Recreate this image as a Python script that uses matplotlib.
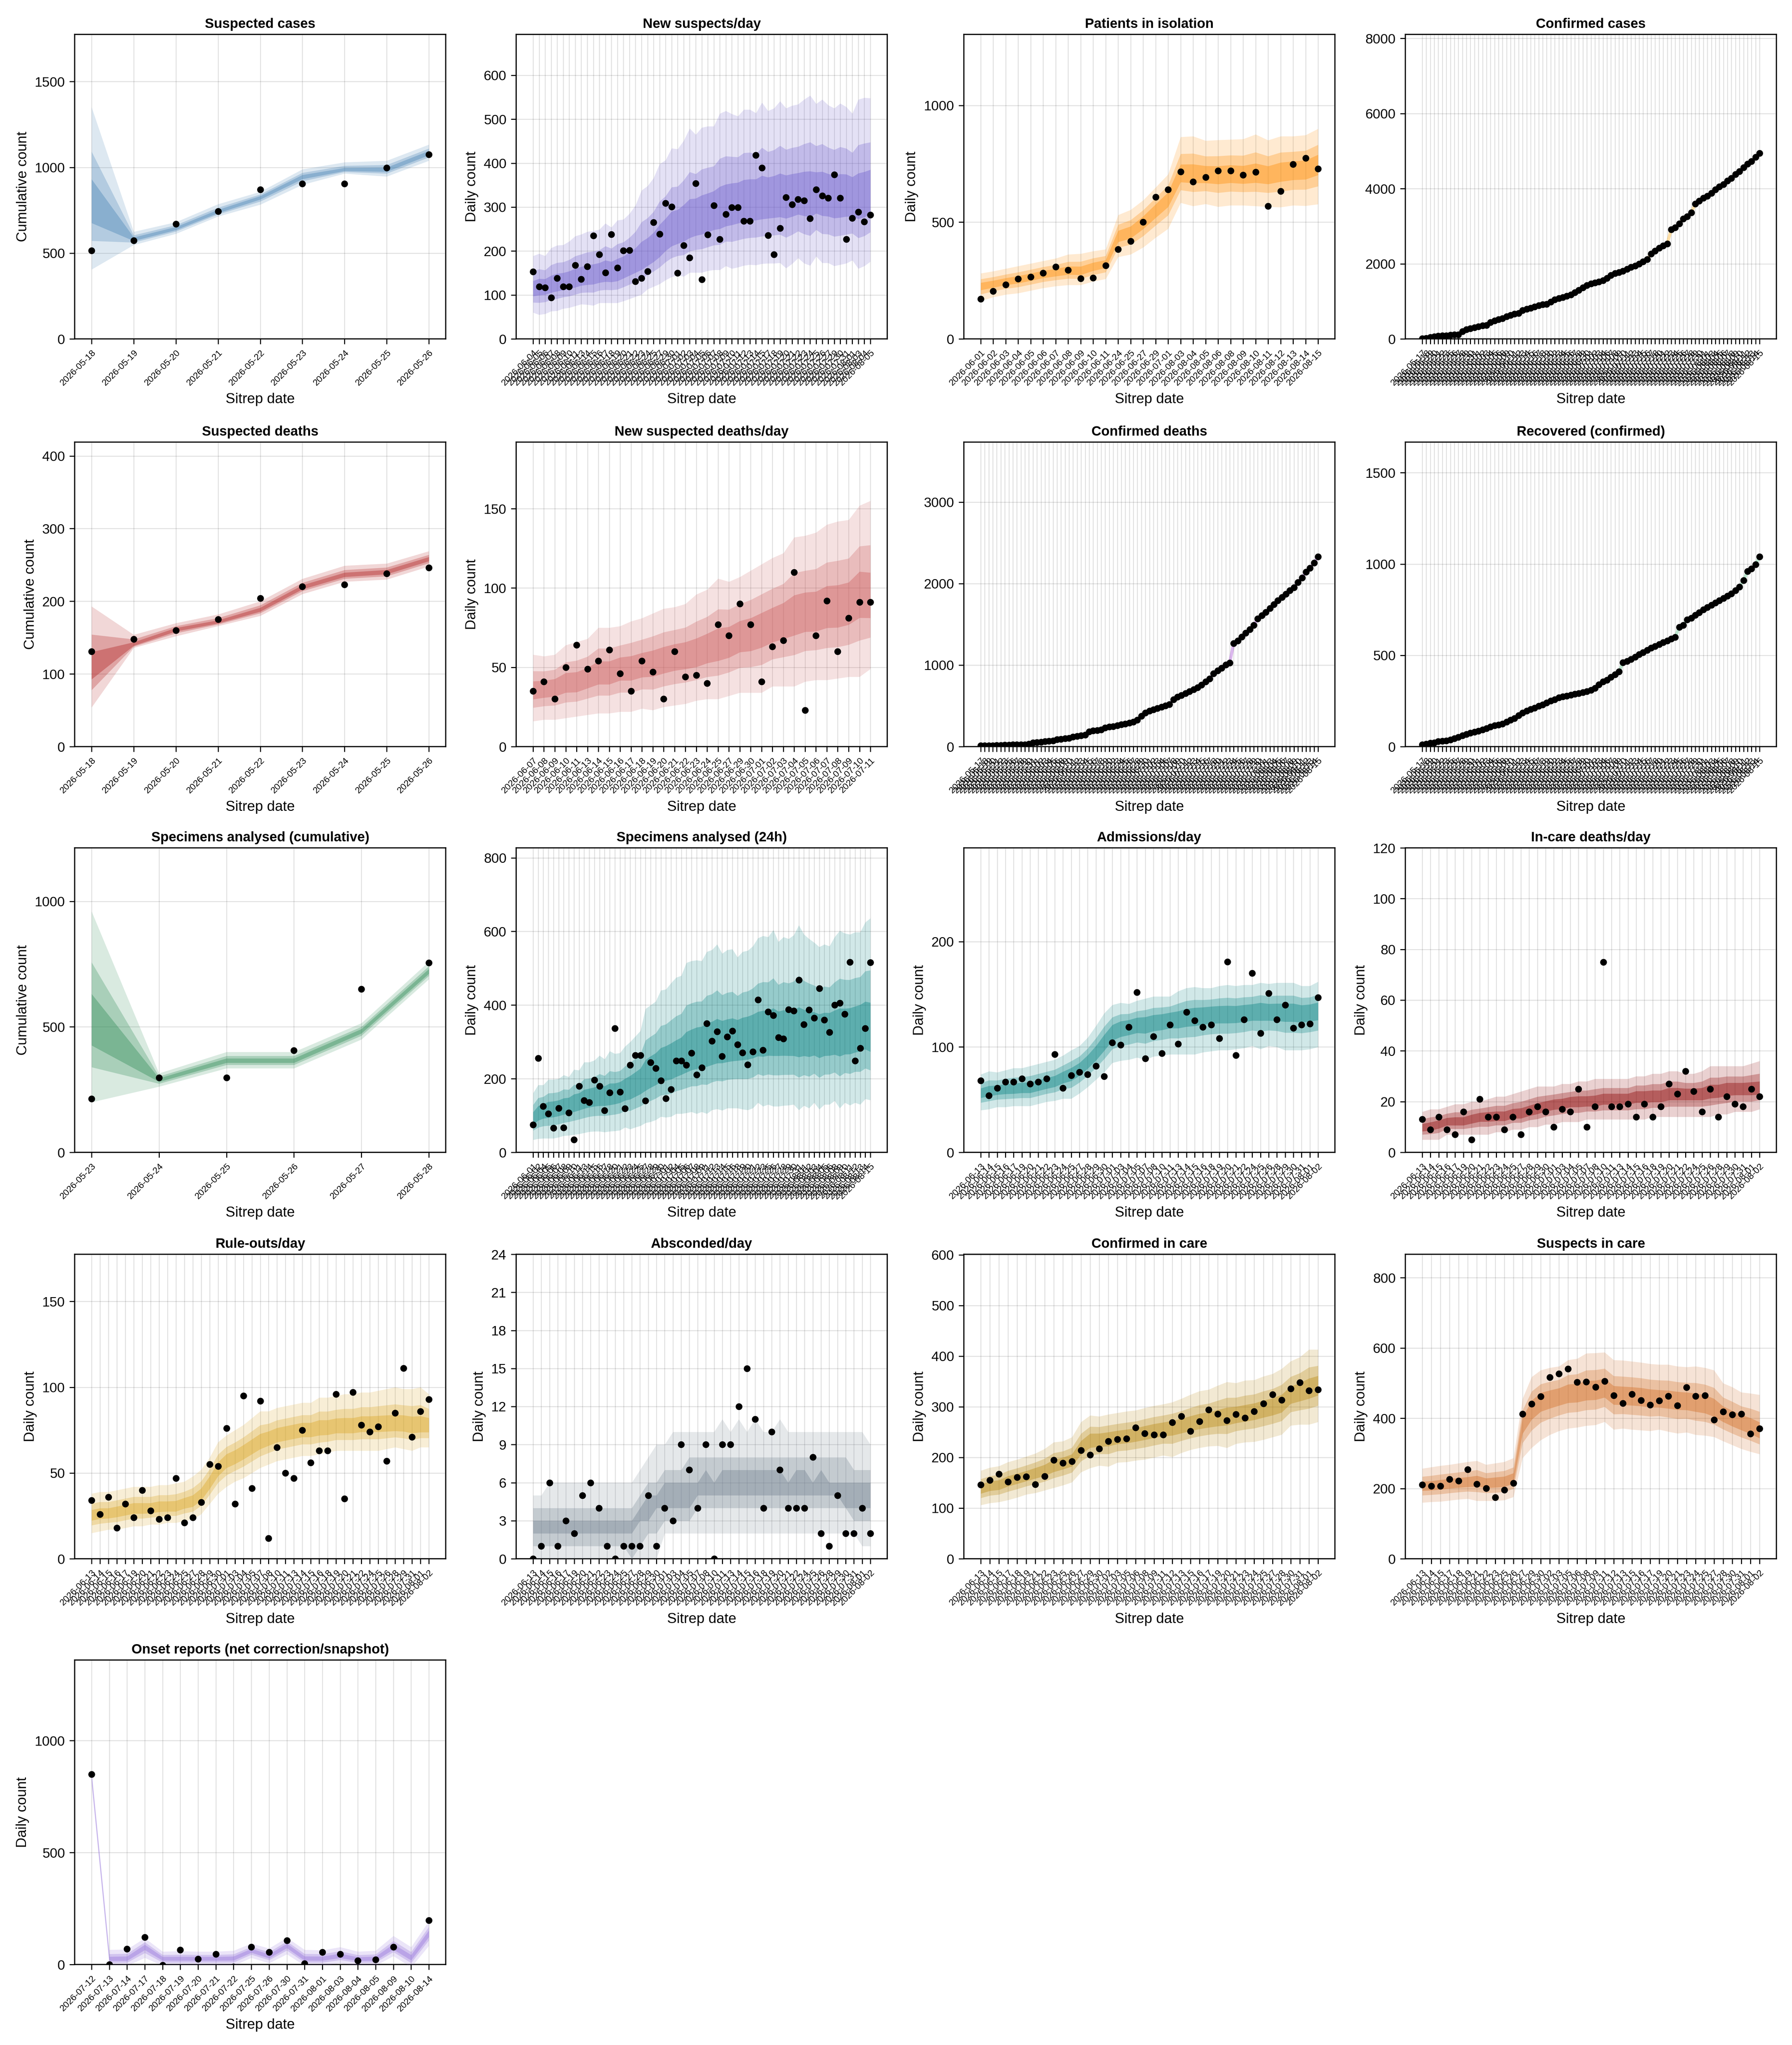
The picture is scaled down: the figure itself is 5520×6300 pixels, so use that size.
import numpy as np
import pandas as pd
import matplotlib
matplotlib.use("Agg")
import matplotlib.pyplot as plt

plt.rcParams["font.family"] = ["Liberation Sans", "DejaVu Sans"]


def day_labels(start, end, skip=()):
    days = pd.date_range(start, end).strftime("%Y-%m-%d")
    return [d for d in days if d[5:] not in skip]


# ---- Suspected cases (cumulative)
p1_dates = day_labels("2026-05-18", "2026-05-26")
p1_obs = [515, 574, 670, 744, 870, 904, 905, 997, 1075]
p1_med = [776, 580, 643, 741, 824, 944, 985, 985, 1083]
p1_lo95 = [405, 548, 613, 714, 783, 899, 964, 947, 1039]
p1_hi95 = [1351, 625, 681, 786, 858, 989, 1030, 1039, 1133]

# ---- New suspects/day
p2_dates = day_labels("2026-06-04", "2026-08-05",
                      ["06-12", "06-26", "06-28", "07-16", "07-28", "08-02"])
p2_obs = [153, 119, 117, 94, 138, 119, 119, 168, 136, 165,
          235, 192, 151, 238, 162, 201, 202, 131, 138, 154,
          265, 239, 309, 301, 150, 213, 185, 354, 135, 237,
          304, 227, 284, 299, 299, 268, 268, 418, 389, 236,
          192, 252, 322, 306, 318, 315, 274, 340, 326, 321,
          374, 321, 227, 275, 289, 267, 282]
p2_med = [111, 116, 117, 121, 125, 127, 129, 133, 137, 140,
          142, 145, 148, 147, 150, 157, 164, 171, 178, 186,
          196, 209, 225, 237, 243, 251, 259, 266, 270, 275,
          282, 285, 290, 296, 300, 303, 305, 308, 310, 312,
          314, 316, 316, 318, 320, 320, 318, 322, 320, 318,
          315, 316, 318, 315, 315, 318, 325]
p2_lo95 = [60, 55, 57, 63, 64, 69, 71, 75, 79, 78,
           76, 82, 82, 82, 82, 86, 91, 96, 101, 113,
           119, 125, 134, 141, 145, 142, 151, 151, 151, 155,
           157, 157, 166, 160, 163, 167, 169, 168, 171, 172,
           172, 173, 161, 171, 184, 172, 167, 188, 173, 173,
           166, 169, 172, 179, 160, 166, 176]
p2_hi95 = [189, 194, 189, 207, 213, 214, 222, 234, 238, 244,
           246, 249, 263, 254, 270, 272, 285, 304, 338, 348,
           366, 398, 407, 434, 432, 451, 479, 465, 481, 484,
           484, 513, 519, 512, 507, 522, 522, 514, 538, 519,
           525, 541, 525, 531, 534, 545, 554, 535, 545, 532,
           525, 536, 528, 513, 545, 549, 548]

# ---- Patients in isolation
p3_dates = ["2026-06-01", "2026-06-02", "2026-06-03", "2026-06-04", "2026-06-05",
            "2026-06-06", "2026-06-07", "2026-06-08", "2026-06-09", "2026-06-10",
            "2026-06-11", "2026-06-24", "2026-06-25", "2026-06-27", "2026-06-29",
            "2026-07-01", "2026-08-03", "2026-08-04", "2026-08-05", "2026-08-06",
            "2026-08-08", "2026-08-09", "2026-08-10", "2026-08-11", "2026-08-12",
            "2026-08-13", "2026-08-14", "2026-08-15"]
p3_obs = [171, 205, 232, 257, 265, 282, 308, 295, 259, 261,
          314, 384, 418, 500, 607, 639, 716, 673, 692, 720,
          720, 702, 715, 569, 633, 748, 775, 729]
p3_med = [226, 235, 246, 254, 265, 277, 284, 292, 290, 309,
          321, 439, 456, 500, 550, 600, 704, 704, 701, 699,
          704, 699, 706, 699, 714, 721, 725, 748]
p3_lo95 = [163, 179, 190, 196, 207, 218, 226, 231, 231, 246,
           257, 351, 362, 392, 434, 472, 583, 569, 578, 566,
           572, 572, 569, 566, 564, 572, 570, 577]
p3_hi95 = [281, 290, 301, 312, 323, 334, 345, 362, 365, 376,
           384, 531, 553, 594, 649, 705, 865, 868, 849, 852,
           854, 856, 876, 851, 868, 868, 873, 900]

# ---- Confirmed cumulative series (cases, deaths, recovered)
conf_dates = day_labels("2026-05-17", "2026-08-15",
                        ["05-24", "06-07", "06-21", "07-05", "07-19", "08-02"])
p4_obs = [5, 20, 40, 60, 75, 85, 90, 100, 115, 115,
          198, 250, 275, 305, 327, 350, 365, 440, 487, 517,
          548, 593, 631, 662, 684, 760, 798, 821, 859, 890,
          913, 928, 989, 1049, 1080, 1110, 1141, 1179, 1240, 1300,
          1369, 1430, 1468, 1498, 1521, 1559, 1612, 1696, 1749, 1772,
          1810, 1856, 1909, 1947, 2000, 2053, 2114, 2266, 2342, 2418,
          2479, 2532, 2912, 2966, 3065, 3194, 3255, 3361, 3597, 3673,
          3749, 3802, 3878, 3977, 4053, 4114, 4205, 4281, 4380, 4456,
          4563, 4654, 4730, 4837, 4943]
p7_obs = [10, 10, 13, 13, 16, 16, 19, 19, 22, 22,
          25, 25, 32, 48, 51, 57, 64, 67, 73, 89,
          92, 99, 105, 118, 127, 137, 143, 185, 194, 201,
          207, 232, 242, 248, 258, 271, 280, 290, 303, 328,
          376, 414, 439, 455, 471, 487, 503, 519, 576, 608,
          631, 653, 678, 701, 726, 758, 796, 831, 895, 933,
          965, 1003, 1029, 1268, 1299, 1347, 1395, 1436, 1490, 1570,
          1608, 1650, 1697, 1745, 1793, 1831, 1873, 1914, 1952, 2016,
          2073, 2143, 2191, 2255, 2330]
p8_obs = [10, 15, 20, 22, 28, 30, 32, 38, 45, 52,
          60, 68, 75, 80, 85, 92, 100, 108, 115, 120,
          125, 135, 145, 155, 170, 185, 195, 205, 212, 222,
          230, 240, 250, 258, 268, 273, 278, 283, 288, 292,
          297, 302, 310, 320, 340, 355, 365, 380, 395, 410,
          460, 468, 478, 490, 505, 515, 528, 540, 550, 560,
          570, 580, 590, 600, 655, 665, 695, 705, 720, 735,
          750, 762, 775, 788, 800, 812, 825, 838, 855, 875,
          910, 960, 975, 998, 1040]

# ---- Suspected deaths (cumulative)
p5_dates = day_labels("2026-05-18", "2026-05-26")
p5_obs = [131, 148, 160, 175, 204, 220, 223, 238, 246]
p5_med = [107, 140, 161, 171, 188, 219, 236, 240, 258]
p5_lo95 = [54, 136, 152, 166, 180, 210, 227, 230, 248]
p5_hi95 = [193, 154, 170, 182, 200, 231, 249, 252, 269]

# ---- New suspected deaths/day
p6_dates = ["2026-06-07", "2026-06-08", "2026-06-09", "2026-06-10", "2026-06-11",
            "2026-06-13", "2026-06-14", "2026-06-15", "2026-06-16", "2026-06-17",
            "2026-06-18", "2026-06-19", "2026-06-20", "2026-06-21", "2026-06-22",
            "2026-06-23", "2026-06-24", "2026-06-25", "2026-06-27", "2026-06-29",
            "2026-06-30", "2026-07-01", "2026-07-02", "2026-07-03", "2026-07-04",
            "2026-07-05", "2026-07-06", "2026-07-07", "2026-07-08", "2026-07-09",
            "2026-07-10", "2026-07-11"]
p6_obs = [35, 41, 30, 50, 64, 49, 54, 61, 46, 35,
          54, 47, 30, 60, 44, 45, 40, 77, 70, 90,
          77, 41, 63, 67, 110, 23, 70, 92, 60, 81,
          91, 91]
p6_med = [35, 36, 37, 40, 40, 43, 46, 46, 49, 49,
          51, 52, 54, 56, 57, 58, 61, 63, 65, 69,
          70, 73, 76, 79, 82, 84, 84, 87, 87, 89,
          95, 93]
p6_lo95 = [16, 17, 17, 18, 19, 20, 21, 21, 22, 22,
           24, 23, 25, 26, 27, 29, 30, 30, 32, 34,
           34, 34, 38, 38, 38, 41, 42, 42, 43, 44,
           44, 49]
p6_hi95 = [58, 57, 58, 64, 66, 68, 75, 75, 76, 79,
           81, 84, 87, 88, 90, 96, 99, 106, 104, 107,
           111, 115, 119, 122, 132, 133, 135, 140, 142, 143,
           152, 155]

# ---- Specimens analysed (cumulative)
p9_dates = day_labels("2026-05-23", "2026-05-28")
p9_obs = [214, 297, 297, 406, 651, 755]
p9_med = [510, 288, 365, 365, 483, 720]
p9_lo95 = [200, 262, 335, 335, 450, 690]
p9_hi95 = [960, 315, 400, 400, 515, 760]

# ---- Specimens analysed (24h)
p10_dates = day_labels("2026-06-01", "2026-08-15",
                       ["06-03", "06-12", "06-19", "06-26", "07-03",
                        "07-10", "07-17", "07-24", "08-07"])
p10_obs = [75, 256, 125, 105, 66, 120, 67, 108, 34, 180,
           141, 136, 197, 180, 114, 162, 337, 164, 119, 237,
           264, 264, 140, 244, 228, 195, 146, 171, 249, 249,
           237, 270, 211, 230, 350, 302, 328, 261, 314, 330,
           293, 271, 238, 273, 414, 278, 382, 372, 312, 309,
           388, 384, 468, 347, 387, 365, 445, 360, 326, 400,
           406, 376, 517, 249, 283, 337, 516]
p10_med = [90, 105, 112, 115, 117, 120, 124, 128, 133, 138,
           143, 147, 150, 152, 153, 155, 158, 162, 168, 174,
           182, 190, 200, 210, 218, 226, 232, 236, 242, 250,
           258, 265, 272, 276, 280, 283, 288, 290, 292, 295,
           297, 300, 303, 306, 308, 310, 312, 313, 313, 313,
           312, 311, 312, 312, 311, 311, 308, 311, 312, 312,
           313, 315, 318, 322, 328, 330, 322]
p10_lo95 = [34, 37, 38, 38, 38, 41, 45, 46, 48, 50,
            53, 56, 57, 57, 55, 57, 58, 60, 68, 63,
            68, 72, 80, 83, 88, 97, 95, 97, 105, 105,
            107, 110, 105, 110, 105, 115, 118, 114, 120, 120,
            120, 117, 115, 120, 135, 125, 130, 125, 125, 127,
            128, 130, 115, 127, 120, 135, 117, 130, 130, 140,
            120, 135, 128, 135, 130, 145, 142]
p10_hi95 = [161, 183, 183, 198, 198, 200, 210, 205, 225, 223,
            245, 245, 250, 263, 253, 275, 268, 270, 288, 300,
            315, 330, 390, 400, 410, 440, 443, 460, 475, 480,
            515, 520, 522, 520, 545, 550, 565, 540, 550, 552,
            530, 545, 548, 560, 582, 588, 585, 604, 572, 585,
            580, 590, 617, 592, 580, 570, 558, 565, 560, 585,
            602, 595, 592, 598, 598, 625, 636]

# ---- Care panels share the 06-13 .. 08-02 sitreps
care_dates = day_labels("2026-06-13", "2026-08-02",
                        ["06-18", "06-26", "07-02", "07-06", "07-09",
                         "07-12", "07-17", "07-23", "07-27"])
ruleout_dates = day_labels("2026-06-13", "2026-08-02",
                           ["06-18", "06-26", "07-02", "07-06", "07-09",
                            "07-12", "07-17", "07-23", "07-27", "07-30"])
incare_dates = day_labels("2026-06-13", "2026-08-02",
                          ["06-16", "06-20", "06-24", "06-28", "07-01", "07-04", "07-07",
                           "07-10", "07-14", "07-18", "07-22", "07-26", "07-29"])

# Admissions/day
p11_obs = [68, 54, 61, 67, 67, 70, 65, 67, 70, 93,
           61, 73, 76, 74, 82, 72, 104, 102, 119, 152,
           89, 110, 94, 121, 103, 133, 125, 119, 121, 108,
           181, 92, 126, 170, 113, 151, 126, 140, 118, 121,
           122, 147]
p11_med = [56, 58, 59, 60, 60, 61, 61, 63, 65, 67,
           71, 74, 79, 86, 94, 104, 114, 118, 120, 122,
           122, 124, 125, 127, 127, 129, 130, 131, 132, 132,
           132, 132, 133, 134, 135, 134, 134, 134, 134, 133,
           134, 135]
p11_lo95 = [40, 41, 43, 43, 44, 44, 44, 46, 48, 49,
            51, 51, 56, 62, 69, 76, 85, 87, 88, 90,
            88, 91, 92, 93, 93, 93, 93, 95, 96, 97,
            97, 98, 99, 101, 98, 101, 100, 97, 97, 97,
            98, 100]
p11_hi95 = [74, 77, 76, 78, 80, 80, 82, 84, 86, 88,
            92, 97, 101, 109, 120, 132, 140, 142, 141, 144,
            146, 148, 148, 148, 153, 156, 157, 156, 156, 158,
            159, 158, 159, 159, 161, 160, 161, 161, 161, 158,
            158, 162]

# In-care deaths/day
p12_obs = [13, 9, 14, 9, 7, 16, 5, 21, 14, 14,
           9, 14, 7, 16, 18, 16, 10, 17, 16, 25,
           10, 18, 75, 18, 18, 19, 14, 19, 14, 18,
           27, 23, 32, 24, 16, 25, 14, 22, 19, 18,
           25, 22]
p12_med = [9.5, 10, 11, 12, 12, 12, 13, 14, 14, 14,
           14, 15, 15, 16, 17, 18, 19, 19, 20, 20,
           20, 20, 21, 21, 21, 21, 22, 22, 22, 22,
           23, 23, 23, 23, 23, 24, 24, 25, 25, 25,
           25, 25]
p12_lo95 = [5, 5, 5, 7, 7, 7, 7, 7, 7, 8,
            8, 9, 9, 10, 10, 11, 11, 12, 12, 12,
            13, 13, 13, 13, 13, 13, 13, 13, 14, 14,
            14, 14, 14, 14, 14, 14, 15, 15, 16, 16,
            16, 17]
p12_hi95 = [16, 17, 17, 18, 19, 19, 20, 20, 21, 22,
            22, 23, 24, 25, 26, 26, 26, 27, 27, 28,
            28, 29, 29, 29, 29, 29, 30, 30, 31, 31,
            32, 32, 31, 31, 32, 34, 34, 34, 34, 34,
            35, 36]

# Rule-outs/day
p13_obs = [34, 26, 36, 18, 32, 24, 40, 28, 23, 24,
           47, 21, 24, 33, 55, 54, 76, 32, 95, 41,
           92, 12, 65, 50, 47, 75, 56, 63, 63, 96,
           35, 97, 78, 74, 77, 57, 85, 111, 71, 86,
           93]
p13_med = [25, 26, 26, 27, 28, 29, 29, 29, 30, 30,
           30, 32, 33, 37, 44, 52, 57, 59, 62, 65,
           68, 70, 72, 73, 74, 75, 75, 76, 76, 77,
           77, 77, 78, 78, 78, 78, 78, 78, 77, 77,
           77]
p13_lo95 = [15, 16, 17, 17, 18, 19, 19, 20, 20, 21,
            21, 22, 23, 26, 32, 38, 42, 45, 47, 50,
            53, 55, 57, 58, 59, 60, 60, 61, 62, 63,
            63, 63, 63, 63, 63, 64, 65, 64, 63, 65,
            65]
p13_hi95 = [38, 39, 39, 40, 41, 42, 42, 42, 43, 43,
            44, 45, 48, 52, 59, 68, 72, 75, 78, 82,
            86, 86, 88, 89, 90, 91, 91, 94, 94, 95,
            96, 96, 97, 97, 98, 99, 100, 99, 99, 100,
            96]

# Absconded/day (integer-valued intervals)
p14_obs = [0, 1, 6, 1, 3, 2, 5, 6, 4, 1,
           0, 1, 1, 1, 5, 1, 4, 3, 9, 7,
           4, 9, 0, 9, 9, 12, 15, 11, 4, 10,
           7, 4, 4, 4, 8, 2, 1, 5, 2, 2,
           4, 2]
p14_lo95 = [0] * 16 + [2] * 24 + [1, 1]
p14_hi95 = [5, 5] + [6] * 11 + [7, 8, 9, 9, 10, 10, 10, 10, 10, 10,
                                11, 10, 11, 10, 11, 10, 10, 11] + [10] * 10 + [9]
p14_lo80 = [1] * 12 + [0, 1, 2, 2, 3, 3, 3, 3] + [4] * 19 + [3, 3, 3]
p14_hi80 = [4] * 13 + [5, 6, 6, 7, 7, 7] + [8] * 20 + [7, 7, 7]
p14_lo50 = [2] * 13 + [3, 3, 4, 4, 4, 4, 4] + [5] * 18 + [4, 4, 4, 4]
p14_hi50 = ([3] * 13 + [4, 5, 5, 6, 6, 6, 6, 6]
            + [7, 6, 7, 7, 7, 7, 7, 7, 7, 7, 6, 7, 7, 6, 7, 6] + [6] * 5)

# Confirmed in care
p15_obs = [146, 155, 167, 152, 161, 162, 147, 163, 195, 189,
           192, 214, 205, 217, 232, 236, 237, 259, 247, 245,
           245, 269, 281, 252, 271, 294, 286, 273, 285, 278,
           291, 306, 324, 313, 336, 348, 332, 334]
p15_med = [137, 143, 145, 153, 158, 163, 169, 174, 183, 188,
           194, 219, 234, 235, 237, 240, 242, 245, 249, 253,
           256, 259, 262, 266, 270, 273, 276, 280, 283, 286,
           290, 295, 299, 305, 322, 328, 335, 342]
p15_lo95 = [106, 110, 112, 116, 121, 127, 130, 135, 140, 145,
            151, 171, 179, 184, 182, 190, 191, 194, 196, 200,
            204, 201, 209, 215, 219, 222, 223, 219, 227, 230,
            231, 235, 240, 245, 263, 265, 265, 270]
p15_hi95 = [174, 180, 183, 191, 196, 202, 208, 217, 230, 232,
            240, 270, 283, 281, 285, 288, 291, 293, 298, 302,
            305, 309, 316, 324, 331, 334, 342, 349, 347, 352,
            353, 360, 365, 375, 390, 398, 413, 413]

# Suspects in care
p16_obs = [211, 207, 207, 226, 222, 254, 213, 201, 175, 196,
           215, 412, 441, 462, 517, 527, 541, 503, 504, 489,
           506, 465, 443, 469, 451, 438, 450, 463, 436, 488,
           463, 465, 396, 419, 410, 412, 356, 371]
p16_med = [206, 207, 210, 213, 215, 217, 221, 215, 217, 219,
           228, 382, 426, 449, 456, 463, 471, 472, 478, 479,
           485, 465, 463, 462, 460, 456, 454, 452, 449, 447,
           443, 438, 426, 410, 397, 386, 375, 360]
p16_lo95 = [160, 162, 163, 166, 169, 171, 165, 165, 165, 167,
            176, 287, 316, 338, 353, 364, 371, 374, 379, 381,
            390, 368, 371, 368, 366, 364, 368, 362, 357, 360,
            353, 351, 347, 335, 324, 313, 305, 298]
p16_hi95 = [257, 261, 265, 268, 272, 276, 279, 268, 272, 276,
            287, 456, 518, 537, 544, 548, 566, 570, 585, 586,
            588, 566, 565, 562, 559, 555, 553, 553, 548, 546,
            548, 544, 537, 500, 489, 474, 471, 467]

# ---- Onset reports
p17_dates = ["2026-07-12", "2026-07-13", "2026-07-14", "2026-07-17", "2026-07-18",
             "2026-07-19", "2026-07-20", "2026-07-21", "2026-07-22", "2026-07-25",
             "2026-07-26", "2026-07-30", "2026-07-31", "2026-08-01", "2026-08-03",
             "2026-08-04", "2026-08-05", "2026-08-09", "2026-08-10", "2026-08-14"]
p17_obs = [849, 0, 70, 122, -3, 65, 25, 47, -10, 78,
           55, 108, 5, 55, 47, 17, 22, 79, -40, 197]
p17_med = [835, 24, 25, 78, 26, 26, 26, 26, 27, 62,
           36, 84, 26, 26, 38, 24, 26, 78, 30, 138]
p17_lo95 = [800, -5, -5, 30, -5, -5, -5, -5, -5, 30,
            6, 46, -5, -5, 6, -5, -5, 38, -12, 84]
p17_hi95 = [870, 66, 68, 118, 58, 60, 58, 58, 62, 94,
            72, 120, 66, 64, 78, 58, 62, 128, 78, 194]


W, H = 5520, 6300
COL_LEFT = [230, 1590, 2969, 4329]
ROW_TOP = [106, 1362, 2612, 3864, 5114]
AX_W, AX_H = 1143, 938
F80, F50 = 0.55, 0.27
ALPHAS = (0.18, 0.28, 0.38)


def add_axes(fig, row, col):
    left = COL_LEFT[col] / W
    bottom = 1 - (ROW_TOP[row] + AX_H) / H
    return fig.add_axes([left, bottom, AX_W / W, AX_H / H])


def draw_panel(ax, title, labels, obs, color, ylim, yticks, ylabel=None,
               med=None, lo95=None, hi95=None, trace=False, bands=None):
    n = len(obs)
    x = np.arange(n)
    if trace:
        ax.plot(x, obs, color=color, lw=2.4, alpha=0.35, zorder=3)
    else:
        if bands is None:
            med = np.asarray(med, float)
            lo95 = np.asarray(lo95, float)
            hi95 = np.asarray(hi95, float)
            bands = [(lo95, hi95),
                     (med - F80 * (med - lo95), med + F80 * (hi95 - med)),
                     (med - F50 * (med - lo95), med + F50 * (hi95 - med))]
        for (lo, hi), a in zip(bands, ALPHAS):
            ax.fill_between(x, lo, hi, color=color, alpha=a, lw=0, zorder=3)
    ax.plot(x, obs, "o", color="black", ms=5.2, mew=0, zorder=5)

    ax.set_xlim(-0.05 * (n - 1), 1.05 * (n - 1))
    ax.set_ylim(*ylim)
    ax.set_xticks(x)
    ax.set_xticklabels(labels[:n], rotation=45, ha="right",
                       rotation_mode="anchor", fontsize=7)
    ax.set_yticks(yticks)
    ax.tick_params(axis="y", labelsize=10.5)
    ax.tick_params(direction="out", length=4, width=0.8)
    ax.grid(True, color="black", alpha=0.12, lw=0.7)
    ax.set_axisbelow(True)
    for sp in ax.spines.values():
        sp.set_linewidth(0.9)
    ax.set_title(title, fontsize=10.5, fontweight="bold", pad=5)
    ax.set_xlabel("Sitrep date", fontsize=11, labelpad=4)
    if ylabel:
        ax.set_ylabel(ylabel, fontsize=11)


def main():
    fig = plt.figure(figsize=(W / 288, H / 288), dpi=288)
    cum, daily = "Cumulative count", "Daily count"

    draw_panel(add_axes(fig, 0, 0), "Suspected cases", p1_dates, p1_obs, "steelblue",
               (0, 1775), [0, 500, 1000, 1500], cum, p1_med, p1_lo95, p1_hi95)
    draw_panel(add_axes(fig, 0, 1), "New suspects/day", p2_dates, p2_obs, "slateblue",
               (0, 693), range(0, 601, 100), daily, p2_med, p2_lo95, p2_hi95)
    draw_panel(add_axes(fig, 0, 2), "Patients in isolation", p3_dates, p3_obs, "darkorange",
               (0, 1304), [0, 500, 1000], daily, p3_med, p3_lo95, p3_hi95)
    draw_panel(add_axes(fig, 0, 3), "Confirmed cases", conf_dates, p4_obs, "orange",
               (0, 8106), range(0, 8001, 2000), trace=True)

    draw_panel(add_axes(fig, 1, 0), "Suspected deaths", p5_dates, p5_obs, "firebrick",
               (0, 419), range(0, 401, 100), cum, p5_med, p5_lo95, p5_hi95)
    draw_panel(add_axes(fig, 1, 1), "New suspected deaths/day", p6_dates, p6_obs, "indianred",
               (0, 192), [0, 50, 100, 150], daily, p6_med, p6_lo95, p6_hi95)
    draw_panel(add_axes(fig, 1, 2), "Confirmed deaths", conf_dates, p7_obs, "darkorchid",
               (0, 3736), range(0, 3001, 1000), trace=True)
    draw_panel(add_axes(fig, 1, 3), "Recovered (confirmed)", conf_dates, p8_obs,
               "mediumseagreen", (0, 1668), [0, 500, 1000, 1500], trace=True)

    draw_panel(add_axes(fig, 2, 0), "Specimens analysed (cumulative)", p9_dates, p9_obs,
               "seagreen", (0, 1213), [0, 500, 1000], cum, p9_med, p9_lo95, p9_hi95)
    draw_panel(add_axes(fig, 2, 1), "Specimens analysed (24h)", p10_dates, p10_obs, "teal",
               (0, 827), range(0, 801, 200), daily, p10_med, p10_lo95, p10_hi95)
    draw_panel(add_axes(fig, 2, 2), "Admissions/day", care_dates, p11_obs, "teal",
               (0, 289), [0, 100, 200], daily, p11_med, p11_lo95, p11_hi95)
    draw_panel(add_axes(fig, 2, 3), "In-care deaths/day", care_dates, p12_obs, "darkred",
               (0, 120), range(0, 121, 20), daily, p12_med, p12_lo95, p12_hi95)

    draw_panel(add_axes(fig, 3, 0), "Rule-outs/day", ruleout_dates, p13_obs, "goldenrod",
               (0, 177.5), [0, 50, 100, 150], daily, p13_med, p13_lo95, p13_hi95)
    draw_panel(add_axes(fig, 3, 1), "Absconded/day", care_dates, p14_obs, "slategray",
               (0, 24), range(0, 25, 3), daily,
               bands=[(p14_lo95, p14_hi95), (p14_lo80, p14_hi80), (p14_lo50, p14_hi50)])
    draw_panel(add_axes(fig, 3, 2), "Confirmed in care", incare_dates, p15_obs,
               "darkgoldenrod", (0, 601), range(0, 601, 100), daily,
               p15_med, p15_lo95, p15_hi95)
    draw_panel(add_axes(fig, 3, 3), "Suspects in care", incare_dates, p16_obs, "chocolate",
               (0, 867), range(0, 801, 200), daily, p16_med, p16_lo95, p16_hi95)

    draw_panel(add_axes(fig, 4, 0), "Onset reports (net correction/snapshot)", p17_dates,
               p17_obs, "mediumpurple", (0, 1360), [0, 500, 1000], daily,
               p17_med, p17_lo95, p17_hi95)

    fig.savefig("out.png", dpi=288)
    plt.close(fig)


if __name__ == "__main__":
    main()
